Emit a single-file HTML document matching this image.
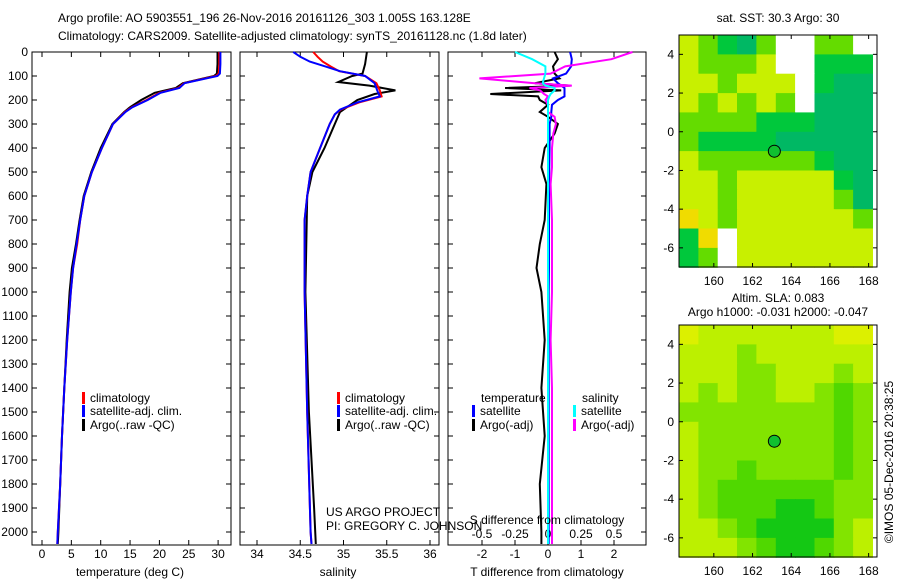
<!DOCTYPE html>
<html><head><meta charset="utf-8"><style>
body{margin:0;background:#fff;}
svg{display:block;font-family:"Liberation Sans",sans-serif;font-size:12px;}
</style></head><body>
<svg id="c" width="900" height="580" viewBox="0 0 900 580">
<text x="58" y="22">Argo profile: AO 5903551_196 26-Nov-2016 20161126_303 1.005S 163.128E</text>
<text x="58" y="40">Climatology: CARS2009. Satellite-adjusted climatology: synTS_20161128.nc (1.8d later)</text>
<text x="778" y="22" text-anchor="middle">sat. SST: 30.3 Argo: 30</text>
<text x="778" y="302" text-anchor="middle">Altim. SLA: 0.083</text>
<text x="778" y="316" text-anchor="middle">Argo h1000: -0.031 h2000: -0.047</text>
<text transform="translate(893,462) rotate(-90)" text-anchor="middle">©IMOS 05-Dec-2016 20:38:25</text>
</svg>
<script>
// ---- profile data ----
const depthT=[0,50,90,100,130,150,170,200,230,250,300,400,500,600,700,800,900,1000,1200,1400,1600,1800,2000,2050];
const tempClim=[30.2,30.2,30.1,29.6,24.2,23.2,20,17.8,15.3,14.1,12.1,10.2,8.5,7.2,6.5,6,5.3,4.9,4.3,3.8,3.4,3.1,2.7,2.6];
const tempSat=[30.4,30.4,30.3,29.9,24.3,23.4,20.2,18,15.4,14.2,12.1,10.2,8.5,7.2,6.5,5.9,5.3,4.9,4.3,3.8,3.4,3.1,2.7,2.6];
const tempArgo=[29.9,29.9,29.8,29.3,24,22.8,19.2,16.9,15,14,12,10,8.4,7.1,6.4,5.8,5.1,4.7,4.2,3.8,3.4,3.1,2.8,2.7];
const depthS=[0,20,40,60,80,100,130,160,185,210,240,260,300,400,500,600,700,1000,1500,2000,2050];
const salClim=[34.65,34.7,34.76,34.85,34.95,35.25,35.38,35.42,35.44,35.18,34.97,34.9,34.84,34.73,34.62,34.58,34.55,34.55,34.58,34.62,34.63];
const salSat=[34.42,34.5,34.61,34.79,34.96,35.25,35.36,35.39,35.42,35.16,34.96,34.9,34.84,34.73,34.62,34.58,34.55,34.55,34.58,34.62,34.63];
const depthSA=[0,50,90,100,125,140,160,175,200,220,250,300,400,500,600,1000,1500,1900,2050];
const salArgo=[35.27,35.25,35.22,35.1,34.94,35.3,35.6,35.36,35.16,35.08,34.96,34.9,34.78,34.64,34.58,34.56,34.6,34.66,34.68];
const depthD=[0,30,60,90,110,130,140,150,160,175,185,200,220,250,270,300,340,400,480,550,700,800,900,1000,1200,1400,1600,1800,2000,2050];
const tDiffArgo=[0.2,0.3,0.15,0.2,0.35,-0.4,0.67,-1.3,0.4,-1.75,-0.3,-0.25,0,-0.25,0,0.3,0.2,-0.1,-0.2,-0.05,-0.1,-0.25,-0.35,-0.2,-0.1,-0.2,-0.1,-0.25,-0.2,-0.2];
const tDiffSat=[0.67,0.72,0.7,0.55,0.15,0.3,0.4,0.5,0.5,0.5,0.5,0.3,0.12,0.1,0.1,0.05,0.05,0.05,0.04,0.03,0.03,0.03,0.03,0.02,0.02,0.02,0.02,0.02,0.02,0.02];
const sDiffArgo=[0.64,0.48,0.13,0.02,-0.52,-0.1,0.18,-0.14,-0.06,-0.03,0,-0.02,0,0,0.05,0.06,0.04,0.03,0.03,0.02,0.03,0.03,0.03,0.03,0.02,0.03,0.03,0.03,0.03,0.03];
const sDiffSat=[-0.25,-0.12,-0.02,-0.02,-0.03,-0.04,-0.02,0.05,0.05,0.02,0.01,0,0,0,0,0,0,0,0,0,0,0,0,0,0,0,0,0,0,0];
// ---- ticks ----
const depthTicks=[0,100,200,300,400,500,600,700,800,900,1000,1100,1200,1300,1400,1500,1600,1700,1800,1900,2000];
const tempTicks=[0,5,10,15,20,25,30];
const salTicks=[34,34.5,35,35.5,36];
const salTickLabels=["34","34.5","35","35.5","36"];
const tdTicks=[-2,-1,0,1,2];
const sdTicks=[-0.5,-0.25,0,0.25,0.5];
const lonTicks=[160,162,164,166,168];
const latTicks=[4,2,0,-2,-4,-6];
// ---- map data (1-degree cells, lon 158.2..168.2, lat 5..-7); 0 = missing ----
const sstGrid=[
[4,3,2,1,3,0,0,3,3,0],[4,3,3,3,4,0,0,2,2,2],[4,4,3,4,4,4,0,2,1,1],[4,3,4,3,4,3,0,1,1,1],
[3,3,3,3,2,2,2,1,1,1],[3,2,2,2,2,1,1,1,1,1],[4,3,3,3,3,3,3,2,1,1],[4,4,3,4,4,4,4,4,2,1],
[4,4,3,4,4,4,4,4,3,1],[5,4,3,4,4,4,4,4,4,3],[2,5,0,4,4,4,4,4,4,4],[2,3,0,4,4,4,4,4,4,4]];
const slaGrid=[
[5,4,4,4,4,4,4,4,5,5],[4,4,4,3,4,4,4,4,4,4],[4,4,4,3,3,4,4,4,3,4],[4,3,4,3,3,4,4,3,2,3],
[3,3,3,3,3,3,3,3,2,3],[4,3,3,3,3,3,3,3,2,3],[4,3,3,3,3,3,3,3,2,3],[4,3,3,2,3,3,3,3,2,3],
[4,3,2,2,2,2,2,2,3,3],[4,3,2,2,2,1,1,2,3,3],[4,4,3,2,1,1,1,1,3,4],[4,4,4,3,2,1,1,2,3,4]];
const argoLon=163.128, argoLat=-1.005;

const sstCols=["#ffffff","#00b864","#00c83c","#64dc00","#c8f000","#f0dc00"];
const slaCols=["#ffffff","#14c814","#50d800","#82e400","#bcf000","#dcf000"];
const svg=document.getElementById('c');
const NS="http://www.w3.org/2000/svg";
function mk(tag,at,parent){const e=document.createElementNS(NS,tag);for(const k in at)e.setAttribute(k,at[k]);(parent||svg).appendChild(e);return e;}
const yD=d=>52+d*0.24;
const xT=v=>42+v*5.87;
const xS=v=>257+(v-34)*86.5;
const xTD=v=>548+v*33;
const xSD=v=>548+v*132;

function panel(x0,x1,name){
 const r=mk('rect',{x:x0,y:52,width:x1-x0,height:493,fill:'none',stroke:'#000'});
 
 
 depthTicks.forEach(d=>{mk('line',{x1:x0,x2:x0+5,y1:yD(d),y2:yD(d),stroke:'#000'});mk('line',{x1:x1-5,x2:x1,y1:yD(d),y2:yD(d),stroke:'#000'});});
}
function line(xs,ds,fx,col,name,w){
 const p=xs.map((v,i)=>fx(v).toFixed(1)+','+yD(ds[i]).toFixed(1)).join(' ');
 const e=mk('polyline',{points:p,fill:'none',stroke:col,'stroke-width':w||2});
 
 
}
function xticks(ticks,labels,fx,x0,x1,yl){
 ticks.forEach((t,i)=>{const x=fx(t);mk('line',{x1:x,x2:x,y1:545,y2:540,stroke:'#000'});mk('line',{x1:x,x2:x,y1:52,y2:57,stroke:'#000'});
 const tx=mk('text',{x:x,y:yl,'text-anchor':'middle'});tx.textContent=labels[i];
 
 });
}
function txt(x,y,s,name,anchor){const t=mk('text',{x:x,y:y,'text-anchor':anchor||'start'});t.textContent=s;
 
 return t;}
function leg(x,y,col,s){mk('rect',{x:x,y:y-10,width:3,height:12,fill:col});const t=txt(x+8,y,s,'legend-entry');}

depthTicks.forEach(d=>{const t=txt(28,yD(d)+4,String(d),'y-tick-label','end');});
panel(32,231,'temperature-panel');
xticks(tempTicks,tempTicks.map(String),xT,32,231,558);
line(tempArgo,depthT,xT,'#000','temp-argo-line');
line(tempClim,depthT,xT,'#f00','temp-clim-line');
line(tempSat,depthT,xT,'#00f','temp-sat-line');
txt(130,576,'temperature (deg C)','x-axis-title-temp','middle');
leg(82,402,'#f00','climatology');leg(82,415,'#00f','satellite-adj. clim.');leg(82,429,'#000','Argo(..raw -QC)');
panel(240,439,'salinity-panel');
xticks(salTicks,salTickLabels,xS,240,439,558);
line(salArgo,depthSA,xS,'#000','sal-argo-line');
line(salClim,depthS,xS,'#f00','sal-clim-line');
line(salSat,depthS,xS,'#00f','sal-sat-line');
txt(338,576,'salinity','x-axis-title-sal','middle');
leg(337,402,'#f00','climatology');leg(337,415,'#00f','satellite-adj. clim.');leg(337,429,'#000','Argo(..raw -QC)');
txt(326,516,'US ARGO PROJECT','project-label');
txt(326,530,'PI: GREGORY C. JOHNSON','pi-label');
panel(448,646,'difference-panel');
xticks(tdTicks,tdTicks.map(String),xTD,448,646,558);
sdTicks.forEach(t=>{const tx=txt(xSD(t),538,String(t),'s-tick-label','middle');});
line(tDiffArgo,depthD,xTD,'#000','tdiff-argo-line');
line(tDiffSat,depthD,xTD,'#00f','tdiff-sat-line');
line(sDiffArgo,depthD,xSD,'#f0f','sdiff-argo-line');
line(sDiffSat,depthD,xSD,'#0ff','sdiff-sat-line');
txt(547,576,'T difference from climatology','x-axis-title-tdiff','middle');
txt(547,524,'S difference from climatology','s-axis-title','middle');
txt(481,402,'temperature','legend-header-temp');txt(582,402,'salinity','legend-header-sal');
leg(472,415,'#00f','satellite');leg(472,429,'#000','Argo(-adj)');
leg(573,415,'#0ff','satellite');leg(573,429,'#f0f','Argo(-adj)');

function map(y0,grid,cols,name){
 const g=mk('g',{});
 
 
 const fx=lon=>679+(lon-158.2)*19.35, fy=lat=>y0+(5-lat)*19.35;
 grid.forEach((row,r)=>row.forEach((v,c)=>{mk('rect',{x:fx(158.2+c).toFixed(1),y:fy(5-r).toFixed(1),width:19.9,height:19.9,fill:cols[v]},g);}));
 mk('rect',{x:679,y:y0,width:198,height:232,fill:'none',stroke:'#000'});
 lonTicks.forEach(l=>{const x=fx(l);mk('line',{x1:x,x2:x,y1:y0,y2:y0+4,stroke:'#000'});mk('line',{x1:x,x2:x,y1:y0+232,y2:y0+228,stroke:'#000'});
  txt(x,y0+250,String(l),'lon-tick-label','middle');});
 latTicks.forEach(l=>{const y=fy(l);mk('line',{x1:679,x2:683,y1:y,y2:y,stroke:'#000'});mk('line',{x1:877,x2:873,y1:y,y2:y,stroke:'#000'});
  txt(674,y+4,String(l),'lat-tick-label','end');});
 const c=mk('circle',{cx:fx(argoLon),cy:fy(argoLat),r:6,fill:'#10c030',stroke:'#000'});
 
 
}
map(35,sstGrid,sstCols,'sst-map');
map(325,slaGrid,slaCols,'sla-map');
</script>
</body></html>
